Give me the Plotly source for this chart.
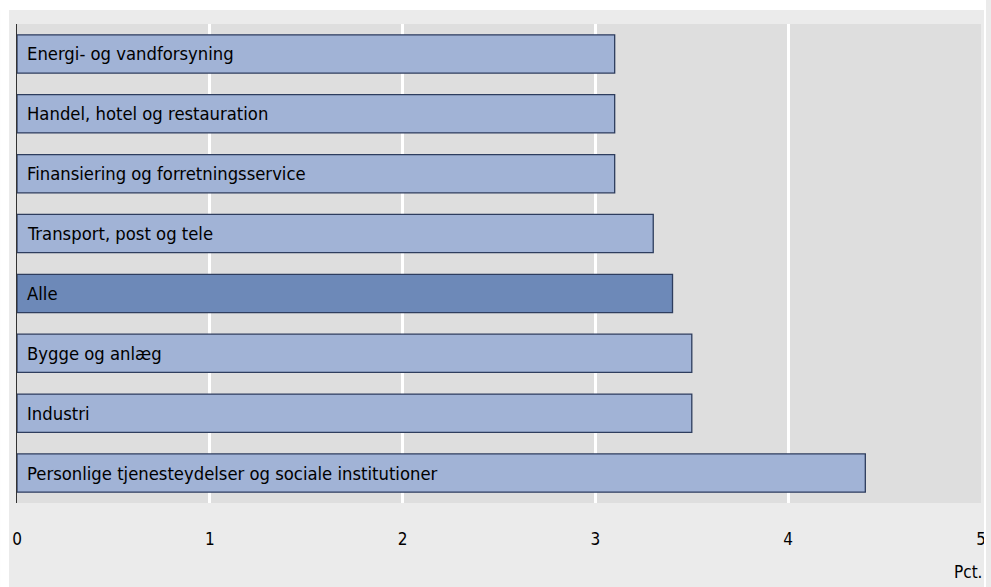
import plotly.graph_objects as go

categories = [
    "Energi- og vandforsyning",
    "Handel, hotel og restauration",
    "Finansiering og forretningsservice",
    "Transport, post og tele",
    "Alle",
    "Bygge og anlæg",
    "Industri",
    "Personlige tjenesteydelser og sociale institutioner",
]
values = [3.1, 3.1, 3.1, 3.3, 3.4, 3.5, 3.5, 4.4]
x_ticks = [0, 1, 2, 3, 4, 5]
unit_label = "Pct."

colors = ["#6d89b8" if c == "Alle" else "#a1b3d6" for c in categories]
FONT = "Liberation Sans Narrow, DejaVu Sans Condensed, Arial Narrow, sans-serif"

W, H = 991, 587
L, R, T, B = 17, 5, 24, 84
pw, ph = W - L - R, H - T - B


def px(xpix):
    return (xpix - L) / pw


def py(ypix):
    return (H - B - ypix) / ph


fig = go.Figure()
fig.add_trace(go.Bar(
    y=categories, x=values, orientation="h",
    marker=dict(color=colors, line=dict(color="#2e3d5e", width=1.3)),
    width=0.64,
    hoverinfo="x+y",
))

for c in categories:
    fig.add_annotation(text=c, x=0, y=c, xref="x", yref="y",
                       xanchor="left", yanchor="middle", xshift=8,
                       showarrow=False,
                       font=dict(family=FONT, size=18.3, color="#000000"))

# white page margins around the grey panel, as in the reference
for x0, x1, y0, y1 in [(0, W, 0, 10), (0, 9, 0, H), (989, W, 0, H)]:
    fig.add_shape(type="rect", xref="paper", yref="paper",
                  x0=px(x0), x1=px(x1), y0=py(y1), y1=py(y0),
                  fillcolor="#ffffff", line=dict(width=0), layer="above")

fig.add_annotation(text=unit_label, xref="paper", yref="paper",
                   x=px(989), y=py(572), xanchor="right", yanchor="middle",
                   showarrow=False,
                   font=dict(family=FONT, size=17, color="#000000"))

fig.update_layout(
    width=W, height=H,
    margin=dict(l=L, r=R, t=T, b=B, pad=0),
    paper_bgcolor="#ebebeb", plot_bgcolor="#dedede",
    showlegend=False,
    font=dict(family=FONT, size=16, color="#000000"),
    xaxis=dict(range=[0, 5], tickvals=x_ticks, ticktext=[str(t) for t in x_ticks],
               showgrid=True, gridcolor="#ffffff", gridwidth=2.5,
               zeroline=False, showline=False, ticks="",
               ticklabelstandoff=24, tickfont=dict(size=17), fixedrange=True),
    yaxis=dict(autorange="reversed", showticklabels=False, showgrid=False,
               showline=True, linecolor="#333333", linewidth=1, ticks="",
               zeroline=False, fixedrange=True),
    bargap=0.36,
)

fig.write_html(
    "out.html",
    config={"displayModeBar": False},
    post_script="document.body.style.margin='0';document.body.style.overflow='hidden';",
)
